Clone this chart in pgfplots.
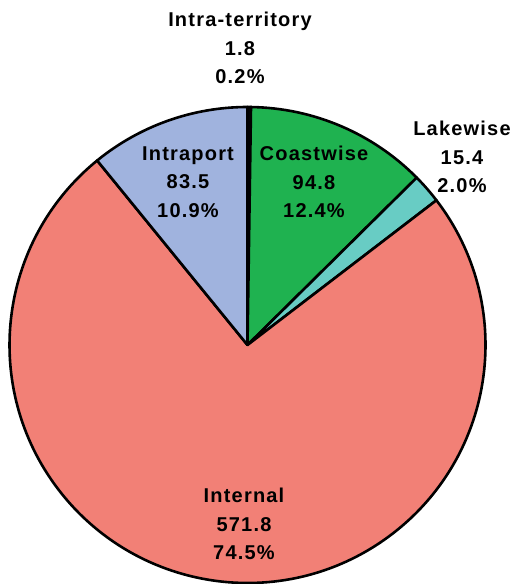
\documentclass[border=0pt]{standalone}
\usepackage{fontspec}
\setmainfont{Liberation Sans}
\usepackage{pgfplots}
\usepackage{pgfplotstable}
\pgfplotsset{compat=1.18}
\definecolor{cIT}{RGB}{10,10,10}
\definecolor{cCW}{RGB}{31,178,80}
\definecolor{cLW}{RGB}{104,204,196}
\definecolor{cIN}{RGB}{242,128,118}
\definecolor{cIP}{RGB}{160,179,222}

% slices clockwise from 12 o'clock
\pgfplotstableread{
name value
IT 1.8
CW 94.8
LW 15.4
IN 571.8
IP 83.5
}\pietable

\pgfplotstablegetelem{0}{value}\of\pietable \let\vIT\pgfplotsretval
\pgfplotstablegetelem{1}{value}\of\pietable \let\vCW\pgfplotsretval
\pgfplotstablegetelem{2}{value}\of\pietable \let\vLW\pgfplotsretval
\pgfplotstablegetelem{3}{value}\of\pietable \let\vIN\pgfplotsretval
\pgfplotstablegetelem{4}{value}\of\pietable \let\vIP\pgfplotsretval
\pgfmathsetmacro\total{\vIT+\vCW+\vLW+\vIN+\vIP}
\pgfmathsetmacro\k{360/\total}
\pgfmathsetmacro\aA{90}
\pgfmathsetmacro\aB{\aA-\k*\vIT}
\pgfmathsetmacro\aC{\aB-\k*\vCW}
\pgfmathsetmacro\aD{\aC-\k*\vLW}
\pgfmathsetmacro\aE{\aD-\k*\vIN}
\pgfmathsetmacro\aF{\aE-\k*\vIP}

\def\cx{247.5}
\def\cy{239}
\def\R{238pt}

\tikzset{
  slice/.style={draw=black, line width=2.6pt, line join=round},
  lab/.style={align=center, font=\bfseries\fontsize{20}{28.5}\selectfont\addfontfeature{LetterSpace=6}},
}
\newcommand\slice[3]{%
  \filldraw[slice, fill=#3] (axis cs:\cx,\cy) -- ++(#1:\R)
    arc[start angle=#1, end angle=#2, radius=\R] -- cycle;}

\begin{document}
\begin{tikzpicture}
\begin{axis}[
  scale only axis, width=532pt, height=584pt,
  xmin=0, xmax=532, ymin=0, ymax=584,
  hide axis, clip=false,
]
\addplot[draw=none] coordinates {(0,0) (532,584)};
\slice{\aA}{\aB}{cIT}
\slice{\aB}{\aC}{cCW}
\slice{\aC}{\aD}{cLW}
\slice{\aD}{\aE}{cIN}
\slice{\aE}{\aF}{cIP}
\node[lab] at (axis cs:240,536) {Intra-territory\\1.8\\0.2\%};
\node[lab] at (axis cs:462,427) {Lakewise\\15.4\\2.0\%};
\node[lab] at (axis cs:188,402) {Intraport\\83.5\\10.9\%};
\node[lab] at (axis cs:314,402) {Coastwise\\94.8\\12.4\%};
\node[lab] at (axis cs:244,60) {Internal\\571.8\\74.5\%};
\end{axis}
\pgfresetboundingbox
\useasboundingbox (current axis.south west) rectangle (current axis.north east);
\end{tikzpicture}
\end{document}
